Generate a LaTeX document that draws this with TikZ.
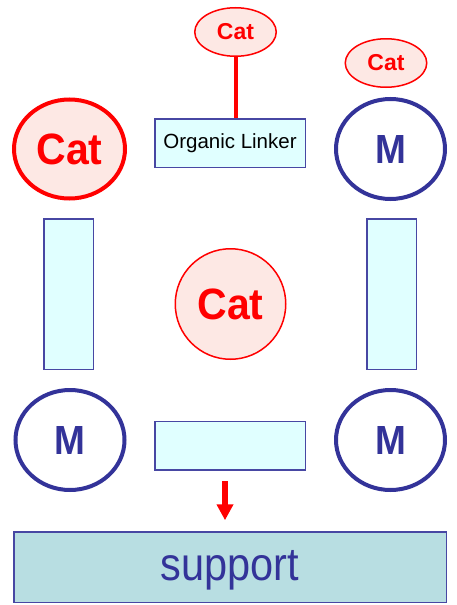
\documentclass[tikz,border=0pt]{standalone}
\usepackage{fontspec}
\setmainfont{Liberation Sans}
\usetikzlibrary{shapes,arrows.meta,positioning}
\definecolor{mofblue}{HTML}{333399}
\definecolor{catred}{HTML}{FF0000}
\definecolor{catfill}{HTML}{FDE8E4}
\definecolor{linkfill}{HTML}{E0FFFF}
\definecolor{suppfill}{HTML}{B8DEE2}
\newcommand{\stretchy}[2]{\scalebox{1}[#1]{#2}}

\begin{document}
\begin{tikzpicture}[x = 1pt, y = -1pt,
	catbig/.style = {ellipse, draw = catred, fill = catfill, line width = 4pt,
		inner sep = 0pt, minimum width = 111pt, minimum height = 99pt,
		text = catred, font = \fontsize{41}{41}\selectfont\bfseries},
	catfree/.style = {circle, draw = catred, fill = catfill, line width = 1.5pt,
		inner sep = 0pt, minimum size = 110.5pt,
		text = catred, font = \fontsize{41}{41}\selectfont\bfseries},
	catsmall/.style = {ellipse, draw = catred, fill = catfill, line width = 1.5pt,
		inner sep = 0pt, minimum width = 81.5pt, minimum height = 48.5pt,
		text = catred, font = \fontsize{23}{23}\selectfont\bfseries},
	metal/.style = {ellipse, draw = mofblue, fill = white, line width = 4pt,
		inner sep = 0pt, minimum width = 109pt, minimum height = 100pt,
		text = mofblue, font = \fontsize{37}{37}\selectfont\bfseries},
	linkbox/.style = {rectangle, draw = mofblue!90, fill = linkfill, line width = 1.5pt,
		inner sep = 0pt, minimum width = 150.5pt, minimum height = 48.5pt,
		font = \fontsize{20.5}{20.5}\selectfont},
	linkpost/.style = {linkbox, minimum width = 49.5pt, minimum height = 150.5pt},
	suppbox/.style = {rectangle, draw = mofblue!90, fill = suppfill, line width = 1.5pt,
		inner sep = 0pt, minimum width = 432.5pt, minimum height = 70.5pt},
	supplabel/.style = {inner sep = 0pt, text = mofblue,
		font = \fontsize{41.5}{41.5}\selectfont}]
\useasboundingbox (0,0) rectangle (457,605);

\node [catsmall] (topcat) at (235.5,32) {Cat};
\node [catsmall] (sidecat) at (386,63) {Cat};
\node [catbig] (cornercat) at (69.5,149) {\stretchy{1.07}{Cat}};
\node [catfree] (midcat) at (230.5,304) {\stretchy{1.07}{Cat}};

\node [metal] (mtopright) at (390.5,149) {\stretchy{1.1}{M}};
\node [metal] (mbotleft) at (70,440) {\stretchy{1.1}{M}};
\node [metal] (mbotright) at (390.5,440) {\stretchy{1.1}{M}};

\node [linkbox] (linker) at (230,143) {Organic Linker};
\node [linkbox] (botlink) at (230,445.5) {};
\node [linkpost] (leftlink) at (68.5,294) {};
\node [linkpost] (rightlink) at (391.5,294) {};

\node [suppbox] (support) at (230,567) {};
\node [supplabel] (supptext) at (230,570.5) {\stretchy{1.12}{support}};

\draw [catred, line width = 4pt] (topcat.south) -- (topcat.south |- linker.north);
\draw [-{Triangle[length = 16pt, width = 16pt]}, catred, line width = 6pt,
	shorten < = 10.5pt, shorten > = 10.75pt]
	([xshift = -5pt]botlink.south) -- ([xshift = -5pt]botlink.south |- support.north);
\end{tikzpicture}
\end{document}
